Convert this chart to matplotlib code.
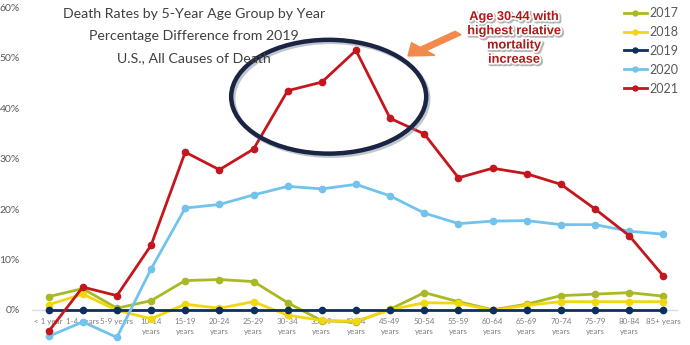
import matplotlib
matplotlib.use("Agg")
import matplotlib.pyplot as plt
import matplotlib.patheffects as pe
from matplotlib.patches import Ellipse, FancyArrow
from matplotlib.ticker import PercentFormatter

age_groups = ["< 1 year", "1-4 years", "5-9 years", "10-14\nyears", "15-19\nyears",
              "20-24\nyears", "25-29\nyears", "30-34\nyears", "35-39\nyears",
              "40-44\nyears", "45-49\nyears", "50-54\nyears", "55-59\nyears",
              "60-64\nyears", "65-69\nyears", "70-74\nyears", "75-79\nyears",
              "80-84\nyears", "85+ years"]

# Percentage difference in death rate versus 2019
y2017 = [2.6, 4.2, 0.3, 1.8, 5.8, 6.0, 5.6, 1.4, -2.2, -2.4, 0.1, 3.4, 1.6, 0.0,
         1.1, 2.8, 3.1, 3.4, 2.7]
y2018 = [1.0, 3.1, -0.1, -1.8, 1.1, 0.3, 1.6, -1.1, -2.1, -2.3, 0.0, 1.4, 1.3, -0.1,
         0.9, 1.6, 1.6, 1.6, 1.6]
y2019 = [0.0] * 19
y2020 = [-5.3, -2.4, -5.5, 8.1, 20.2, 20.9, 22.8, 24.5, 24.0, 24.9, 22.6, 19.2, 17.1,
         17.6, 17.7, 16.9, 16.9, 15.6, 15.0]
y2021 = [-4.3, 4.5, 2.8, 12.8, 31.3, 27.8, 31.9, 43.5, 45.2, 51.5, 38.0, 34.9, 26.2,
         28.1, 27.0, 24.9, 20.0, 14.7, 6.7]

series = [("2017", y2017, "#A9B925"), ("2018", y2018, "#F2D70F"),
          ("2019", y2019, "#0D2F5E"), ("2020", y2020, "#72C3EC"),
          ("2021", y2021, "#C4161C")]

yticks = [0, 10, 20, 30, 40, 50, 60]

plt.rcParams["font.family"] = ["Lato", "DejaVu Sans"]

fig = plt.figure(figsize=(6.9, 3.45), dpi=100)
ax = fig.add_axes([0.0467, 0.0, 0.9355, 0.978])
x = list(range(len(age_groups)))

ax.axhline(0, color="#D9DDE3", lw=1, zorder=1)
for name, vals, col in series:
    ax.plot(x, vals, color=col, lw=2, marker="o", ms=4.5, label=name, zorder=3)

ax.set_xlim(-0.48, 18.42)
ax.set_ylim(-7, 60)
ax.set_yticks(yticks)
ax.yaxis.set_major_formatter(PercentFormatter(decimals=0))
ax.tick_params(axis="y", length=0, pad=9, labelsize=7.5, labelcolor="#595959")
ax.set_xticks([])
for s in ax.spines.values():
    s.set_visible(False)

for i, lab in enumerate(age_groups):
    ax.text(i, -1.7, lab, ha="center", va="top", fontsize=5.8, color="#7F7F7F",
            linespacing=1.4, zorder=2)

fig.text(0.281, 0.978, "Death Rates by 5-Year Age Group by Year\n"
         "Percentage Difference from 2019\nU.S., All Causes of Death",
         ha="center", va="top", fontsize=10.2, color="#404040",
         linespacing=2.05)

# Highlight around the 30-44 peak
ell = Ellipse((8.2, 42.3), 5.71, 22.6, fill=False, ec="#1B2442", lw=3.2, zorder=4,
              path_effects=[pe.SimpleLineShadow(offset=(1.5, -1.5), shadow_color="#8090A0",
                                                alpha=0.5), pe.Normal()])
ax.add_patch(ell)

fig.patches.append(FancyArrow(458 / 690, 1 - 33 / 345, -50 / 690, -23 / 345,
                              width=0.013, head_width=0.05, head_length=0.03,
                              length_includes_head=True, color="#F28A4C",
                              transform=fig.transFigure, figure=fig))

fig.text(514 / 690, 1 - 11 / 345, "Age 30-44 with\nhighest relative\nmortality\nincrease",
         ha="center", va="top", fontsize=9.2, fontweight="bold", color="#B01818",
         family=["Liberation Sans", "DejaVu Sans"], linespacing=1.25,
         path_effects=[pe.Stroke(linewidth=3, foreground="#B5B5B5", offset=(1, -1)),
                       pe.Stroke(linewidth=2.5, foreground="white"),
                       pe.Normal()])

leg = fig.legend(loc="upper right", bbox_to_anchor=(1.0, 1.012), frameon=False,
                 fontsize=9, labelcolor="#595959", handlelength=1.9,
                 handletextpad=0.2, labelspacing=0.55, markerscale=0.8)

fig.savefig("out.png", dpi=100)
